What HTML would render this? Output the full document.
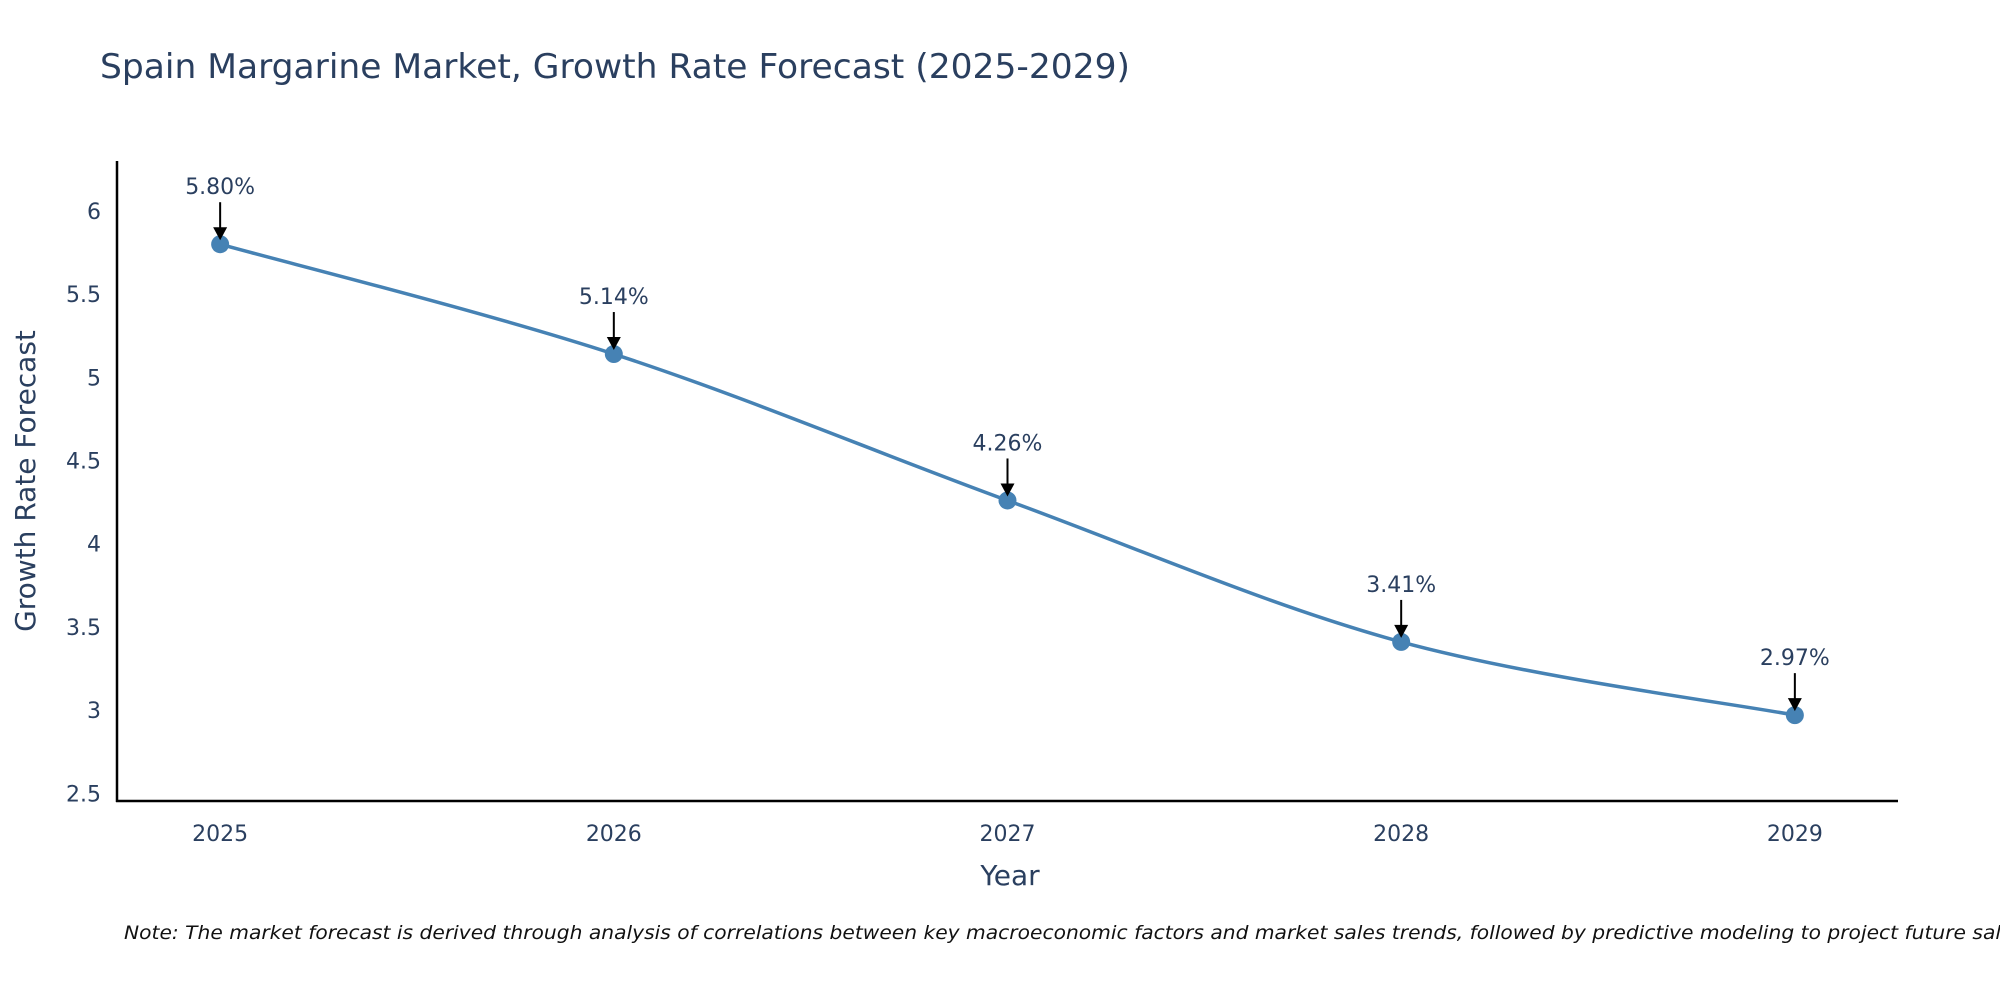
<!DOCTYPE html>
<html><head><meta charset="utf-8"><style>
body{margin:0;background:#fff;}
svg text{font-family:"DejaVu Sans","Liberation Sans",sans-serif;fill:#2a3f5f;}
</style></head><body>
<svg id="chart" width="2000" height="1000" viewBox="0 0 2000 1000" xmlns="http://www.w3.org/2000/svg">
<text x="100" y="78" font-size="34" textLength="1030" lengthAdjust="spacingAndGlyphs">Spain Margarine Market, Growth Rate Forecast (2025-2029)</text>
<g id="plot"></g>
<text x="1010" y="885" font-size="28" text-anchor="middle">Year</text>
<text transform="translate(35,481) rotate(-90)" font-size="28" text-anchor="middle">Growth Rate Forecast</text>
<text x="124" y="939" font-size="19" font-style="italic" fill="#000" style="fill:#111" textLength="1900" lengthAdjust="spacingAndGlyphs">Note: The market forecast is derived through analysis of correlations between key macroeconomic factors and market sales trends, followed by predictive modeling to project future sales</text>
</svg>
<script>
const years = [2025, 2026, 2027, 2028, 2029];
const growth = [5.80, 5.14, 4.26, 3.41, 2.97];
const labels = ["5.80%", "5.14%", "4.26%", "3.41%", "2.97%"];
const yTicks = [2.5, 3, 3.5, 4, 4.5, 5, 5.5, 6];
const yTickLabels = ["2.5", "3", "3.5", "4", "4.5", "5", "5.5", "6"];

const NS = "http://www.w3.org/2000/svg";
const L = 117, R = 1898, T = 161, B = 801;
const xMin = 2024.738, xMax = 2029.262, yMin = 2.454, yMax = 6.30;
const xs = v => L + (v - xMin) / (xMax - xMin) * (R - L);
const ys = v => B - (v - yMin) / (yMax - yMin) * (B - T);
const g = document.getElementById('plot');
function mk(tag, attrs, parent) {
  const e = document.createElementNS(NS, tag);
  for (const k in attrs) e.setAttribute(k, attrs[k]);
  (parent || g).appendChild(e);
  return e;
}
// ticks
yTicks.forEach((t, i) => {
  const e = mk('text', {x: L - 16, y: ys(t) + 8, 'font-size': 22, 'text-anchor': 'end'});
  
  
  e.textContent = yTickLabels[i];
});
years.forEach(yr => {
  const e = mk('text', {x: xs(yr), y: B + 40, 'font-size': 22, 'text-anchor': 'middle'});
  
  
  e.textContent = String(yr);
});
// axes
const ya = mk('line', {x1: L, y1: T, x2: L, y2: B + 1, stroke: '#000', 'stroke-width': 2.5});


const xa = mk('line', {x1: L - 1, y1: B, x2: R, y2: B, stroke: '#000', 'stroke-width': 2.5});


// spline (Catmull-Rom)
const pts = years.map((y, i) => [xs(y), ys(growth[i])]);
let d = `M${pts[0][0]},${pts[0][1]}`;
const s = 0.5 / 3 * 2;
for (let i = 0; i < pts.length - 1; i++) {
  const p0 = pts[Math.max(0, i - 1)], p1 = pts[i], p2 = pts[i + 1], p3 = pts[Math.min(pts.length - 1, i + 2)];
  const c1 = [p1[0] + (p2[0] - p0[0]) * s / 2, p1[1] + (p2[1] - p0[1]) * s / 2];
  const c2 = [p2[0] - (p3[0] - p1[0]) * s / 2, p2[1] - (p3[1] - p1[1]) * s / 2];
  d += ` C${c1[0]},${c1[1]} ${c2[0]},${c2[1]} ${p2[0]},${p2[1]}`;
}
const line = mk('path', {d: d, fill: 'none', stroke: '#4682b4', 'stroke-width': 3.5});


pts.forEach((p, i) => {
  const c = mk('circle', {cx: p[0], cy: p[1], r: 9, fill: '#4682b4'});
  
  
  const a = mk('line', {x1: p[0], y1: p[1] - 42, x2: p[0], y2: p[1] - 14, stroke: '#000', 'stroke-width': 2});
  
  
  const h = mk('polygon', {points: `${p[0]-7},${p[1]-17} ${p[0]+7},${p[1]-17} ${p[0]},${p[1]-4}`, fill: '#000'});
  
  
  const t = mk('text', {x: p[0], y: p[1] - 50, 'font-size': 22, 'text-anchor': 'middle'});
  
  
  t.textContent = labels[i];
});
</script>
</body></html>
